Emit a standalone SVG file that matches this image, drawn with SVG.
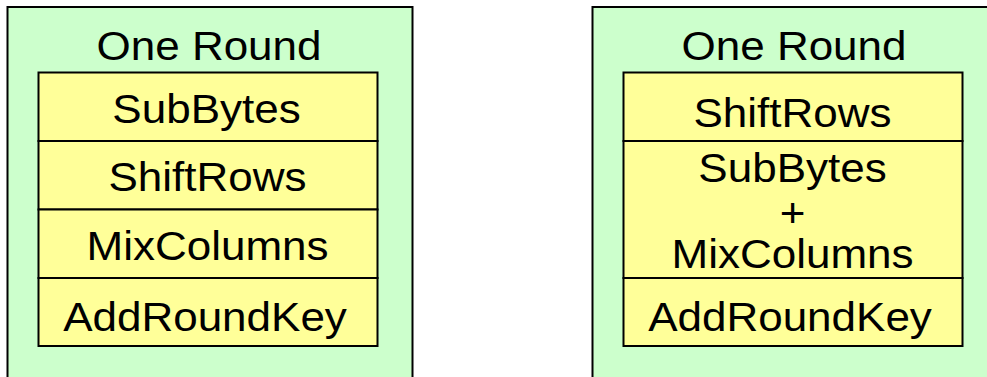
<svg xmlns="http://www.w3.org/2000/svg" width="987" height="377" viewBox="0 0 987 377">
<style>
.outer{fill:#ccffcc;stroke:#000;stroke-width:2}
.cell{fill:#ffff99;stroke:#000;stroke-width:2}
text{font-family:"Liberation Sans",Arial,sans-serif;font-size:40px;fill:#000;text-anchor:middle}
</style>
<rect width="987" height="377" fill="#fff"/>
<g id="round-standard">
<rect class="outer" x="7.5" y="7" width="405" height="380"/>
<text transform="translate(209 59.5) scale(1.1 1)">One Round</text>
<g id="subbytes-left">
<rect class="cell" x="38.5" y="72.5" width="339" height="68.5"/>
<text transform="translate(206.5 122.5) scale(1.1 1)">SubBytes</text>
</g>
<g id="shiftrows-left">
<rect class="cell" x="38.5" y="141" width="339" height="68.5"/>
<text transform="translate(207.5 191) scale(1.1 1)">ShiftRows</text>
</g>
<g id="mixcolumns-left">
<rect class="cell" x="38.5" y="209.5" width="339" height="68.5"/>
<text transform="translate(207.5 259.5) scale(1.1 1)">MixColumns</text>
</g>
<g id="addroundkey-left">
<rect class="cell" x="38.5" y="278" width="339" height="68"/>
<text transform="translate(205 331) scale(1.1 1)">AddRoundKey</text>
</g>
</g>
<g id="round-combined">
<rect class="outer" x="592.5" y="7" width="405" height="380"/>
<text transform="translate(794 59.5) scale(1.1 1)">One Round</text>
<g id="shiftrows-right">
<rect class="cell" x="623.5" y="72.5" width="339" height="68.5"/>
<text transform="translate(792.5 127) scale(1.1 1)">ShiftRows</text>
</g>
<g id="subbytes-mixcolumns-right">
<rect class="cell" x="623.5" y="141" width="339" height="137"/>
<text transform="translate(792.5 182) scale(1.1 1)">SubBytes</text>
<text transform="translate(792.5 227) scale(1.1 1)">+</text>
<text transform="translate(792.5 268) scale(1.1 1)">MixColumns</text>
</g>
<g id="addroundkey-right">
<rect class="cell" x="623.5" y="278" width="339" height="68"/>
<text transform="translate(790 331) scale(1.1 1)">AddRoundKey</text>
</g>
</g>
<g id="connectors"/>
</svg>
